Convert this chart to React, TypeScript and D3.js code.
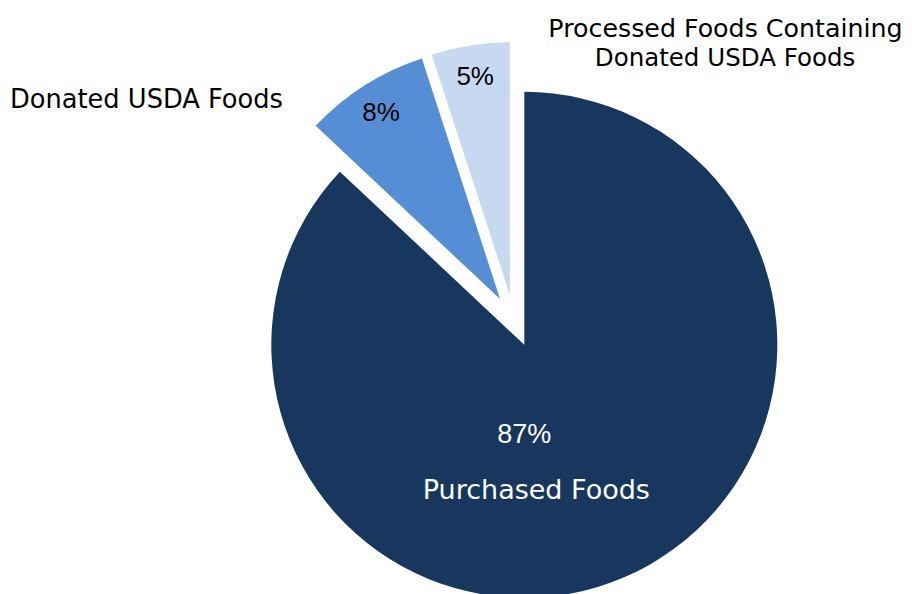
import React from "react";
import * as d3 from "d3";

const categories = ["Purchased Foods", "Donated USDA Foods", "Processed Foods Containing Donated USDA Foods"];
const values = [87, 8, 5];
const pctLabels = ["87%", "8%", "5%"];
const colors = ["#17375E", "#558ED5", "#C6D9F1"];

const W = 912;
const H = 594;
const CX = 514;
const CY = 321;
const R = 253;
const EXPLODE = 26;

export default function App() {
  const pie = d3
    .pie<number>()
    .sort(null)
    .startAngle(0)
    .endAngle(2 * Math.PI)
    .value((d) => d);
  const arcs = pie(values);
  const arc = d3.arc<d3.PieArcDatum<number>>().innerRadius(0).outerRadius(R);

  const offsets = arcs.map((a) => {
    const mid = (a.startAngle + a.endAngle) / 2;
    return [Math.sin(mid) * EXPLODE, -Math.cos(mid) * EXPLODE];
  });
  const labelPos = (i: number, rad: number) => {
    const a = arcs[i];
    const mid = (a.startAngle + a.endAngle) / 2;
    return [CX + offsets[i][0] + Math.sin(mid) * rad, CY + offsets[i][1] - Math.cos(mid) * rad];
  };

  const p1 = labelPos(1, 222);
  const p2 = labelPos(2, 222);
  const c0 = [CX + offsets[0][0], CY + offsets[0][1]];

  return (
    <svg
      width={W}
      height={H}
      style={{ position: "absolute", left: 0, top: 0, background: "#fff" }}
    >
      {arcs.map((a, i) => (
        <path
          key={i}
          d={arc(a) || ""}
          fill={colors[i]}
          transform={`translate(${CX + offsets[i][0]},${CY + offsets[i][1]})`}
        />
      ))}
      <g fontFamily="'Liberation Sans', Arial, sans-serif">
        <text x={c0[0]} y={c0[1] + 98} textAnchor="middle" fontSize={27} fill="#fff">
          {pctLabels[0]}
        </text>
        <text x={p1[0]} y={p1[1] + 9} textAnchor="middle" fontSize={26} fill="#000">
          {pctLabels[1]}
        </text>
        <text x={p2[0]} y={p2[1] + 9} textAnchor="middle" fontSize={26} fill="#000">
          {pctLabels[2]}
        </text>
      </g>
      <g fontFamily="'DejaVu Sans', Verdana, sans-serif">
        <text x={c0[0] + 12} y={c0[1] + 154} textAnchor="middle" fontSize={27} fill="#fff">
          {categories[0]}
        </text>
        <text x={283} y={108} textAnchor="end" fontSize={25.7} fill="#000">
          {categories[1]}
        </text>
        <text x={725.5} y={36.5} textAnchor="middle" fontSize={25.3} fill="#000">
          Processed Foods Containing
        </text>
        <text x={725} y={65.5} textAnchor="middle" fontSize={24.5} fill="#000">
          Donated USDA Foods
        </text>
      </g>
    </svg>
  );
}
